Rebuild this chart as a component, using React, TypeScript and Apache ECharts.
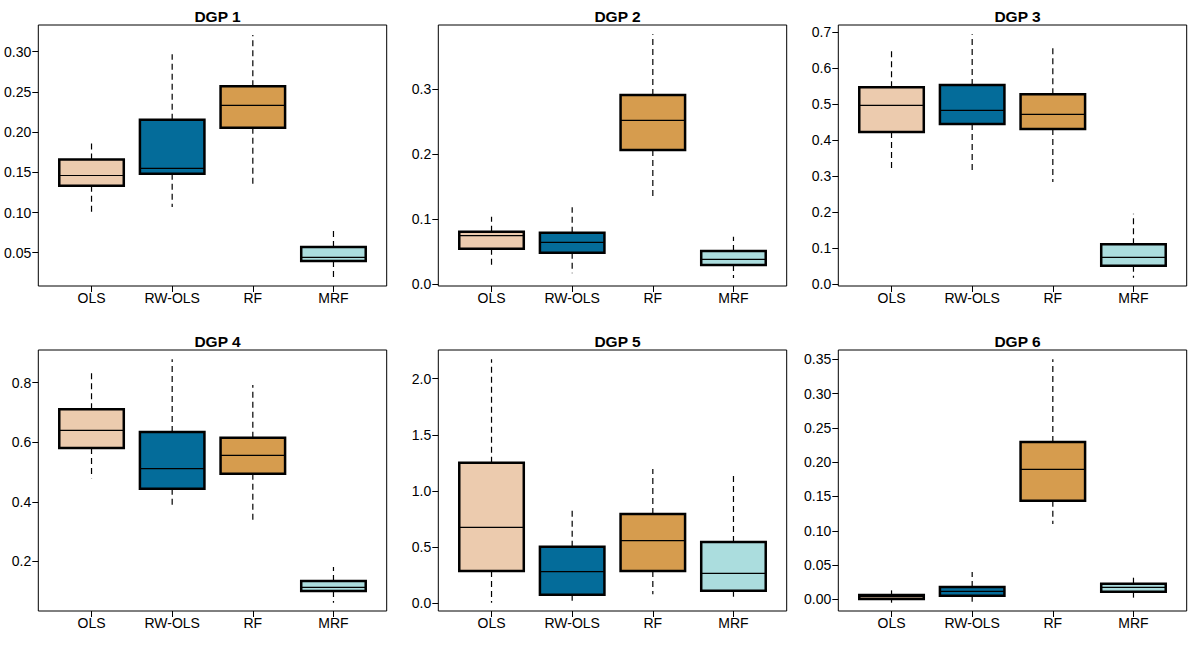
import React, { useEffect, useRef } from "react";
import * as echarts from "echarts";

const methods = ["OLS", "RW-OLS", "RF", "MRF"];
const boxColors = ["#ECCBAE", "#046C9A", "#D69C4E", "#ABDDDE"];
const panelTitles = ["DGP 1", "DGP 2", "DGP 3", "DGP 4", "DGP 5", "DGP 6"];

// each row: [lower whisker, Q1, median, Q3, upper whisker]
const dgp1 = [
  [0.1006, 0.1333, 0.146, 0.166, 0.189],
  [0.1068, 0.1483, 0.1549, 0.2154, 0.2967],
  [0.1342, 0.2055, 0.2333, 0.2569, 0.3207],
  [0.0189, 0.0396, 0.0442, 0.057, 0.0811],
];
const dgp2 = [
  [0.0287, 0.0549, 0.0749, 0.081, 0.1041],
  [0.0169, 0.0487, 0.0646, 0.0795, 0.1185],
  [0.1338, 0.2067, 0.2523, 0.2913, 0.3846],
  [0.0097, 0.0297, 0.0385, 0.0513, 0.0733],
];
const dgp3 = [
  [0.3204, 0.4231, 0.4972, 0.5472, 0.6574],
  [0.3176, 0.4454, 0.4833, 0.5537, 0.6944],
  [0.2843, 0.4315, 0.4722, 0.5278, 0.663],
  [0.0185, 0.0519, 0.075, 0.1111, 0.1963],
];
const dgp4 = [
  [0.4787, 0.5806, 0.6399, 0.7104, 0.8313],
  [0.3802, 0.444, 0.5112, 0.6343, 0.8784],
  [0.3287, 0.4944, 0.556, 0.6153, 0.7922],
  [0.0612, 0.1004, 0.1127, 0.1339, 0.181],
];
const dgp5 = [
  [0.006, 0.2878, 0.6766, 1.252, 2.172],
  [0.0148, 0.0772, 0.2819, 0.5045, 0.8457],
  [0.0801, 0.2878, 0.5579, 0.7953, 1.196],
  [0.0237, 0.1128, 0.267, 0.546, 1.151],
];
const dgp6 = [
  [-0.0049, 0.0005, 0.0039, 0.0063, 0.0131],
  [-0.0034, 0.0053, 0.0117, 0.018, 0.0399],
  [0.1099, 0.1439, 0.1896, 0.2295, 0.35],
  [-0.0029, 0.0112, 0.0175, 0.0228, 0.036],
];
const panelData = [dgp1, dgp2, dgp3, dgp4, dgp5, dgp6];

// y tick labels per panel
const ticks1 = [0.05, 0.1, 0.15, 0.2, 0.25, 0.3];
const ticks2 = [0, 0.1, 0.2, 0.3];
const ticks3 = [0, 0.1, 0.2, 0.3, 0.4, 0.5, 0.6, 0.7];
const ticks4 = [0.2, 0.4, 0.6, 0.8];
const ticks5 = [0, 0.5, 1, 1.5, 2];
const ticks6 = [0, 0.05, 0.1, 0.15, 0.2, 0.25, 0.3, 0.35];
const panelTicks = [ticks1, ticks2, ticks3, ticks4, ticks5, ticks6];
const tickDecimals = [2, 1, 1, 1, 1, 2];

// axis extents per panel (layout)
const yMins = [0.0086, -0.0026, -0.0046, 0.0332, -0.068, -0.017];
const yMaxs = [0.3332, 0.399, 0.7204, 0.9097, 2.255, 0.3636];

const FONT = "'Liberation Sans', Arial, Helvetica, sans-serif";

export default function App() {
  const ref = useRef<HTMLDivElement>(null);
  useEffect(() => {
    document.body.style.margin = "0";
    if (!ref.current) return;
    const chart = echarts.init(ref.current, null, { renderer: "svg" });

    const grids: any[] = [];
    const xAxes: any[] = [];
    const yAxes: any[] = [];
    const series: any[] = [];
    const titles: any[] = [];

    const plotW = 348.4;
    const plotH = 261;

    panelData.forEach((pd, p) => {
      const col = p % 3;
      const row = Math.floor(p / 3);
      const left = col * 400 + 38.3;
      const top = row * 325 + 25;
      grids.push({
        left,
        top,
        width: plotW,
        height: plotH,
        show: true,
        borderColor: "#000",
        borderWidth: 1,
        backgroundColor: "transparent",
        containLabel: false,
      });
      xAxes.push({
        type: "value",
        gridIndex: p,
        min: 0.34,
        max: 4.66,
        axisLine: { show: false, onZero: false },
        splitLine: { show: false },
        axisTick: {
          show: true,
          length: 6,
          customValues: [1, 2, 3, 4],
          lineStyle: { color: "#000", width: 1 },
        },
        axisLabel: {
          show: true,
          customValues: [1, 2, 3, 4],
          formatter: (v: number) => methods[Math.round(v) - 1] ?? "",
          color: "#000",
          fontFamily: FONT,
          fontSize: 14,
          margin: 5,
        },
      });
      yAxes.push({
        type: "value",
        gridIndex: p,
        min: yMins[p],
        max: yMaxs[p],
        axisLine: { show: false, onZero: false },
        splitLine: { show: false },
        axisTick: {
          show: true,
          length: 6,
          customValues: panelTicks[p],
          lineStyle: { color: "#000", width: 1 },
        },
        axisLabel: {
          show: true,
          customValues: panelTicks[p],
          formatter: (v: number) => v.toFixed(tickDecimals[p]),
          color: "#000",
          fontFamily: FONT,
          fontSize: 14,
          margin: 7,
        },
      });
      titles.push({
        text: panelTitles[p],
        left: left + plotW / 2,
        top: row * 325 + 3,
        textAlign: "center",
        textStyle: {
          fontFamily: FONT,
          fontSize: 15.5,
          fontWeight: "bold",
          color: "#000",
        },
      });
      series.push({
        type: "custom",
        xAxisIndex: p,
        yAxisIndex: p,
        clip: false,
        encode: { x: 0, y: [1, 2, 3, 4, 5] },
        data: pd.map((s, i) => [i + 1, s[0], s[1], s[2], s[3], s[4], i]),
        renderItem: (params: any, api: any) => {
          const x = api.value(0);
          const lo = api.coord([x, api.value(1)]);
          const q1 = api.coord([x, api.value(2)]);
          const med = api.coord([x, api.value(3)]);
          const q3 = api.coord([x, api.value(4)]);
          const hi = api.coord([x, api.value(5)]);
          const ci = api.value(6);
          const half = api.size([0.8, 0])[0] / 2;
          const cx = q1[0];
          const dash = { stroke: "#000", lineWidth: 1.2, lineDash: [6, 4], fill: null };
          return {
            type: "group",
            children: [
              { type: "line", shape: { x1: cx, y1: q3[1], x2: cx, y2: hi[1] }, style: dash },
              { type: "line", shape: { x1: cx, y1: q1[1], x2: cx, y2: lo[1] }, style: dash },
              {
                type: "rect",
                shape: { x: cx - half, y: q3[1], width: 2 * half, height: q1[1] - q3[1] },
                style: { fill: boxColors[ci], stroke: "#000", lineWidth: 2.5 },
              },
              {
                type: "line",
                shape: { x1: cx - half, y1: med[1], x2: cx + half, y2: med[1] },
                style: { stroke: "#000", lineWidth: 1.2 },
              },
            ],
          };
        },
      });
    });

    chart.setOption({
      animation: false,
      backgroundColor: "#fff",
      title: titles,
      grid: grids,
      xAxis: xAxes,
      yAxis: yAxes,
      series,
    });
    return () => chart.dispose();
  }, []);
  return <div ref={ref} style={{ width: 1200, height: 650 }} />;
}
